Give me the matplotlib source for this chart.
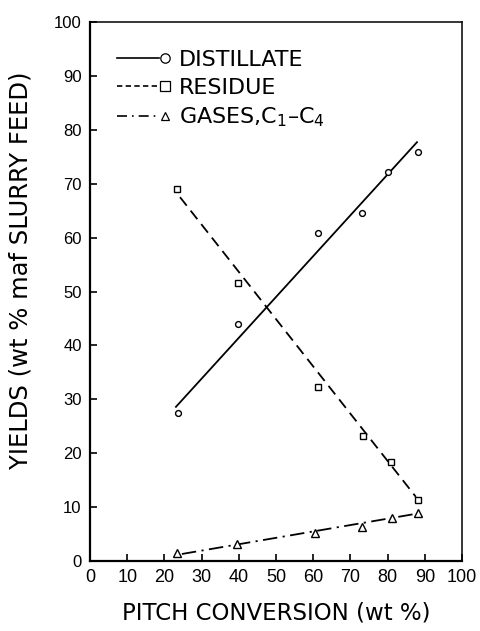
import matplotlib
matplotlib.use("Agg")
import matplotlib.pyplot as plt
from matplotlib.legend_handler import HandlerBase
from matplotlib.lines import Line2D

# measured yields vs pitch conversion
conv_distillate = [23.7, 39.8, 61.3, 73.2, 80.1, 88.2]
yield_distillate = [27.5, 44.0, 60.9, 64.5, 72.2, 75.9]

conv_residue = [23.4, 39.8, 61.3, 73.4, 80.9, 88.2]
yield_residue = [69.0, 51.6, 32.3, 23.2, 18.4, 11.3]

conv_gases = [23.4, 39.5, 60.5, 73.1, 81.2, 88.2]
yield_gases = [1.5, 3.2, 5.2, 6.3, 8.0, 8.9]

# straight-line fits drawn through each series (end points)
fit_x_distillate = [23.1, 87.9]
fit_y_distillate = [28.6, 77.7]
fit_x_residue = [24.2, 87.6]
fit_y_residue = [67.5, 11.9]
fit_x_gases = [24.7, 88.0]
fit_y_gases = [1.3, 8.8]

ticks = list(range(0, 101, 10))
tick_labels = [str(t) for t in ticks]

LEGEND_DASHES = {"--": [3.2, 2.0], "-.": [6, 3, 1, 3]}


class LineThenMarker(HandlerBase):
    """Legend key: line segment followed by the open marker."""

    def create_artists(self, legend, orig_handle, xdescent, ydescent,
                       width, height, fontsize, trans):
        y = height / 2 - ydescent
        x0 = -xdescent
        seg = Line2D([x0, x0 + width * 0.86], [y, y], color="black", lw=1.2)
        style = orig_handle.get_linestyle()
        if style in LEGEND_DASHES:
            seg.set_dashes(LEGEND_DASHES[style])
        mk = Line2D([x0 + width * 0.99], [y], marker=orig_handle.get_marker(),
                    markersize=orig_handle.get_markersize() * 1.5,
                    mfc="none", mec="black", mew=0.9, linestyle="none")
        seg.set_transform(trans)
        mk.set_transform(trans)
        return [seg, mk]


fig = plt.figure(figsize=(4.81, 6.31), dpi=100)
ax = fig.add_axes([90 / 481, 70 / 631, 372 / 481, 539 / 631])

ax.plot(fit_x_distillate, fit_y_distillate, color="black", lw=1.3)
ax.plot(fit_x_residue, fit_y_residue, color="black", lw=1.3,
        dashes=[6, 3.5])
ax.plot(fit_x_gases, fit_y_gases, color="black", lw=1.3,
        dashes=[8, 3, 1.2, 3])

ax.plot(conv_distillate, yield_distillate, "o", ms=4.2, mfc="white",
        mec="black", mew=1.0)
ax.plot(conv_residue, yield_residue, "s", ms=4.5, mfc="white",
        mec="black", mew=1.0)
ax.plot(conv_gases, yield_gases, "^", ms=5.5, mfc="white",
        mec="black", mew=1.0)

h1 = Line2D([], [], linestyle="-", marker="o", ms=4.5)
h2 = Line2D([], [], linestyle="--", marker="s", ms=4.5)
h3 = Line2D([], [], linestyle="-.", marker="^", ms=4.0)
leg = ax.legend([h1, h2, h3],
                ["DISTILLATE", "RESIDUE", "GASES,C$_1$\u2013C$_4$"],
                handler_map={Line2D: LineThenMarker()},
                loc="upper left", bbox_to_anchor=(0.05, 0.965),
                frameon=False, handlelength=2.15, handletextpad=0.62,
                labelspacing=0.36, borderaxespad=0,
                prop={"family": "DejaVu Sans", "size": 16})

ax.set_xlim(0, 100)
ax.set_ylim(0, 100)
ax.set_xticks(ticks)
ax.set_xticklabels(tick_labels, family="Liberation Sans", fontsize=13)
ax.set_yticks(ticks)
ax.set_yticklabels(tick_labels, family="Liberation Sans", fontsize=12)
ax.tick_params(axis="both", direction="in", length=5, width=1.2,
               top=False, right=False)
ax.tick_params(axis="x", pad=6)
ax.tick_params(axis="y", pad=6)

for side in ["left", "bottom"]:
    ax.spines[side].set_linewidth(1.6)
for side in ["top", "right"]:
    ax.spines[side].set_linewidth(1.1)

ax.set_xlabel("PITCH CONVERSION (wt %)", family="DejaVu Sans",
              fontsize=16.5, labelpad=11)
ax.set_ylabel("YIELDS (wt % maf SLURRY FEED)", family="DejaVu Sans",
              fontsize=17.5)
ax.yaxis.set_label_coords(-0.155, 0.54)

fig.savefig("out.png", dpi=100)
